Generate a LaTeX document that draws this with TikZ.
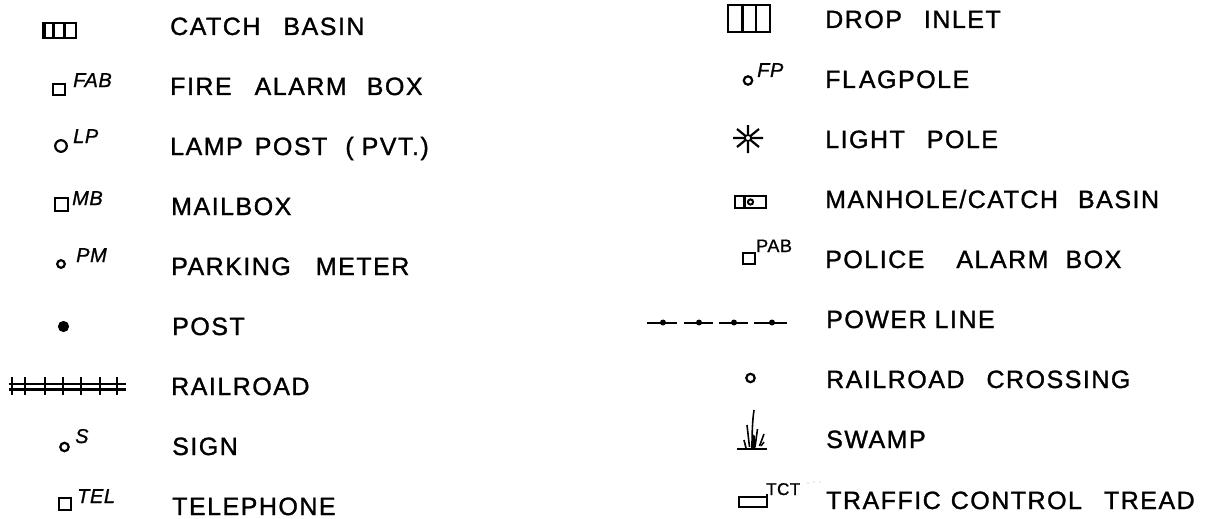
\documentclass[tikz,border=0pt]{standalone}
\usepackage{fontspec}
\newfontfamily\labfont[LetterSpace=6,FakeBold=1.2]{Liberation Sans}
\newfontfamily\supfont[LetterSpace=3,FakeBold=1]{Liberation Sans}
\newcommand{\wg}[1]{\hspace{#1pt}}
\tikzset{
  lab/.style={anchor=base west, inner sep=0pt, font=\labfont\fontsize{25}{25}\selectfont},
  itsup/.style={anchor=base west, inner sep=0pt, font=\supfont\itshape\fontsize{20}{20}\selectfont},
  upsup/.style={anchor=base west, inner sep=0pt, font=\supfont\fontsize{18}{18}\selectfont},
  sym/.style={line width=2.2pt, draw=black},
  heavy/.style={line width=2.9pt, draw=black},
}
\begin{document}
\begin{tikzpicture}[x=1pt,y=-1pt]
\useasboundingbox (0,0) rectangle (1207,519);
% ---------- left column labels
\node[lab] (l1) at (170,35)  {CATCH\wg{23}BASIN};
\node[lab] (l2) at (170,95)  {FIRE\wg{23}ALARM\wg{20}BOX};
\node[lab] (l3) at (170,155) {LAMP\wg{12}POST\wg{18}(\wg{8}PVT.)};
\node[lab] (l4) at (171,215) {MAILBOX};
\node[lab] (l5) at (171,275) {PARKING\wg{25}METER};
\node[lab] (l6) at (172,335) {POST};
\node[lab] (l7) at (171,395) {RAILROAD};
\node[lab] (l8) at (172,455) {SIGN};
\node[lab] (l9) at (172,515) {TELEPHONE};
% ---------- right column labels
\node[lab] (r1) at (825,28)  {DROP\wg{22}INLET};
\node[lab] (r2) at (825,88)  {FL\wg{3}AGPOLE};
\node[lab] (r3) at (825,148) {LIGHT\wg{22}POLE};
\node[lab] (r4) at (825,208) {MANHOLE/CATCH\wg{20}BASIN};
\node[lab] (r5) at (825,268) {POLICE\wg{32}ALARM\wg{17}BOX};
\node[lab] (r6) at (826,328) {POWER\wg{8}LINE};
\node[lab] (r7) at (826,388) {RAILROAD\wg{22}CROSSING};
\node[lab] (r8) at (826,448) {SWAMP};
\node[lab] (r9) at (826,509) {TRAFFIC\wg{10}CONTROL\wg{22}TREAD};
% ---------- left symbols
% catch basin
\draw[heavy] (43,23) rectangle (76,38);
\draw[heavy] (53.5,23) -- (53.5,38) (64.5,23) -- (64.5,38);
\draw[line width=1.5pt] (45,23) -- (45,38);
% fire alarm box
\draw[sym] (53,84) rectangle (65,95);
\node[itsup] (sFAB) at (73,87) {FAB};
% lamp post
\draw[sym] (61,146) circle (5.8);
\node[itsup] (sLP) at (73,143) {LP};
% mailbox
\draw[sym] (55,198) rectangle (68,211);
\node[itsup] (sMB) at (72,205) {MB};
% parking meter
\draw[sym] (61,264) circle (3.8);
\node[itsup] (sPM) at (76,262) {PM};
% post
\fill (63.5,326.5) circle (5.6);
% railroad
\draw[sym] (9,384) -- (126,384) (9,389.5) -- (126,389.5);
\foreach \xx in {12,25,45,63,81,100,117} \draw[sym] (\xx,377) -- (\xx,395);
% sign
\draw[sym] (64.5,447) circle (4.2);
\node[itsup] (sS) at (75,443) {S};
% telephone
\draw[sym] (59,498) rectangle (71,510);
\node[itsup] (sTEL) at (77,503) {TEL};
% ---------- right symbols
% drop inlet
\draw[heavy] (728,5) rectangle (770,32);
\draw[heavy] (742.5,5) -- (742.5,32) (756,5) -- (756,32);
% flagpole
\draw[sym] (748,80.5) circle (4.2);
\node[itsup] (sFP) at (757,77) {FP};
% light pole
\draw[sym] (733,138) -- (763,138) (748,125) -- (748,153)
           (737,129) -- (759,147) (759,129) -- (737,147);
\draw[line width=1.6pt, fill=white] (748,138) circle (3);
% manhole / catch basin
\draw[heavy] (735,196) rectangle (766,208);
\draw[heavy] (744.5,196) -- (744.5,208);
\draw[line width=2pt] (750.5,202) circle (2.6);
% police alarm box
\draw[sym] (743,253) rectangle (755,264);
\node[upsup] (sPAB) at (756,252) {PAB};
% power line
\draw[line width=2.4pt] (647,323) -- (677,323) (684,323) -- (713,323)
      (719,323) -- (748,323) (754,323) -- (787,323);
\foreach \xx in {663,699,734,772} \fill (\xx,322.5) circle (3);
% railroad crossing
\draw[sym] (750.5,378) circle (4.2);
% swamp
\draw[line width=2.2pt] (737,449) -- (767,449);
\draw[line width=1.6pt] (752,448) .. controls (752,432) and (752.5,420) .. (754,410);
\draw[line width=1.6pt] (747,425) -- (749.5,447);
\draw[line width=1.6pt] (744,440) -- (746,448);
\draw[line width=1.6pt] (757.5,429) -- (755,447);
\draw[line width=1.6pt] (764,434) -- (759.5,446);
\draw[line width=1.4pt] (764,442) -- (761,446);
\fill (751.5,448) -- (752.5,434) -- (755,436) -- (755.5,448) -- cycle;
% traffic control tread
\draw[sym] (739,497) rectangle (767,507);
\draw[sym] (767,494) -- (767,507);
\node[upsup, font=\supfont\fontsize{17}{17}\selectfont] (sTCT) at (766,495) {TCT};
\foreach \xx/\yy in {808/483,814/482,820/482} \fill[gray!60] (\xx,\yy) circle (0.7);
\end{tikzpicture}
\end{document}
